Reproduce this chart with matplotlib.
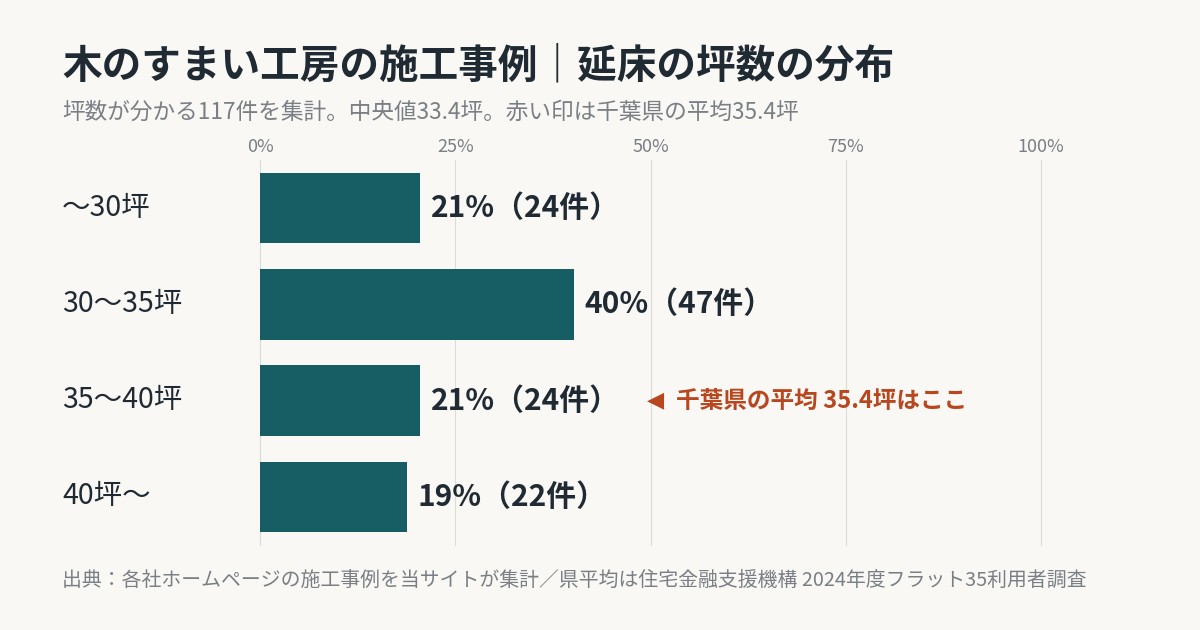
import matplotlib
matplotlib.use('Agg')
import matplotlib.pyplot as plt

plt.rcParams['font.family'] = ['Noto Sans CJK JP', 'DejaVu Sans']

categories = ['〜30坪', '30〜35坪', '35〜40坪', '40坪〜']
counts = [24, 47, 24, 22]
total = 117
pct = [c / total * 100 for c in counts]
ticks = [0, 25, 50, 75, 100]

bg = '#f9f8f5'
bar_color = '#165e63'
dark = '#1f2a33'
grey = '#7a7f85'
accent = '#b8461e'

fig = plt.figure(figsize=(12, 6.3), dpi=100, facecolor=bg)
ax = fig.add_axes([260 / 1200, 1 - 545 / 630, 781 / 1200, 385 / 630])
ax.set_facecolor(bg)

y = range(len(categories))
ax.barh(y, pct, height=0.73, color=bar_color, zorder=2)
ax.set_xlim(0, 100)
ax.set_ylim(3.5, -0.5)

for t in ticks:
    ax.axvline(t, color='#dddbd6', lw=0.8, zorder=1, clip_on=False)
ax.xaxis.tick_top()
ax.set_xticks(ticks)
ax.set_xticklabels([f'{t}%' for t in ticks], color=grey, fontsize=13)
ax.tick_params(axis='x', length=0, pad=3)
ax.set_yticks([])
for s in ax.spines.values():
    s.set_visible(False)

for i, (p, c) in enumerate(zip(pct, counts)):
    ax.text(p + 1.4, i, f'{round(p)}%（{c}件）', va='center', ha='left',
            fontsize=21.5, fontweight='bold', color=dark)
    fig.text(62 / 1200, 1 - (208 + 96 * i) / 630, categories[i], va='center',
             ha='left', fontsize=20.5, color=dark)

ax.text(49.5, 2, '◀', va='center', ha='left', fontsize=16, color=accent,
        family=['DejaVu Sans'])
ax.text(53.3, 2, '千葉県の平均 35.4坪はここ', va='center', ha='left',
        fontsize=17, fontweight='bold', color=accent)

fig.text(62 / 1200, 1 - 66 / 630, '木のすまい工房の施工事例｜延床の坪数の分布',
         fontsize=28.5, fontweight='bold', color=dark, va='center')
fig.text(62 / 1200, 1 - 112 / 630,
         '坪数が分かる117件を集計。中央値33.4坪。赤い印は千葉県の平均35.4坪',
         fontsize=16.3, color=grey, va='center')
fig.text(62 / 1200, 1 - 580 / 630,
         '出典：各社ホームページの施工事例を当サイトが集計／県平均は住宅金融支援機構 2024年度フラット35利用者調査',
         fontsize=14.3, color=grey, va='center')

fig.savefig('out.png', dpi=100, facecolor=bg)
plt.close()
